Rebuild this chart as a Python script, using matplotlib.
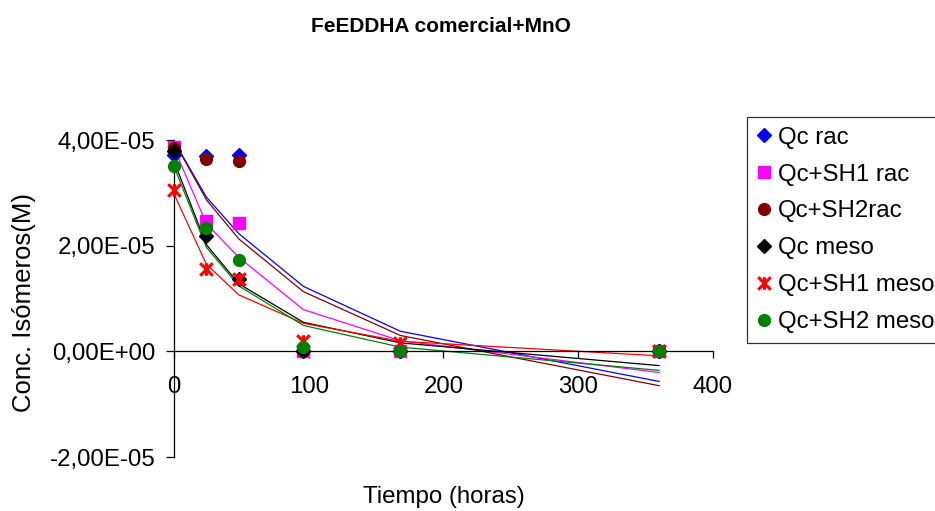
import numpy as np
import matplotlib.pyplot as plt
from matplotlib.path import Path

plt.rcParams['font.family'] = ['Liberation Sans', 'DejaVu Sans']

# time (hours)
tiempo = [0, 24, 48, 96, 168, 360]

# measured concentrations (x 1E-05 M)
labels = ['Qc rac', 'Qc+SH1 rac', 'Qc+SH2rac', 'Qc meso', 'Qc+SH1 meso', 'Qc+SH2 meso']
qc_rac = [3.72, 3.69, 3.72, 0.0, 0.0, 0.0]
sh1_rac = [3.86, 2.46, 2.42, 0.0, 0.0, 0.0]
sh2_rac = [3.85, 3.64, 3.61, 0.0, 0.0, 0.0]
qc_meso = [3.80, 2.18, 1.37, 0.0, 0.0, 0.0]
sh1_meso = [3.06, 1.55, 1.37, 0.19, 0.16, 0.0]
sh2_meso = [3.50, 2.33, 1.72, 0.09, 0.0, 0.0]

# model curves (x 1E-05 M)
fit_qc_rac = [3.98, 2.92, 2.23, 1.23, 0.38, -0.57]
fit_sh1_rac = [3.85, 2.42, 1.78, 0.79, 0.20, -0.40]
fit_sh2_rac = [3.98, 2.87, 2.13, 1.13, 0.30, -0.65]
fit_qc_meso = [3.60, 2.02, 1.28, 0.55, 0.16, -0.27]
fit_sh1_meso = [2.98, 1.65, 1.07, 0.53, 0.19, -0.085]
fit_sh2_meso = [3.50, 1.97, 1.24, 0.49, 0.08, -0.36]

yticks = [-2e-5, 0, 2e-5, 4e-5]
ytick_labels = ['-2,00E-05', '0,00E+00', '2,00E-05', '4,00E-05']
xticks = [0, 100, 200, 300, 400]

measured = [qc_rac, sh1_rac, sh2_rac, qc_meso, sh1_meso, sh2_meso]
fits = [fit_qc_rac, fit_sh1_rac, fit_sh2_rac, fit_qc_meso, fit_sh1_meso, fit_sh2_meso]
colors = ['#0000FF', '#FF00FF', '#800000', '#000000', '#FF0000', '#008000']

asterisk = Path([(-1, -1), (1, 1), (-1, 1), (1, -1), (0, -1), (0, 1)],
                [Path.MOVETO, Path.LINETO, Path.MOVETO, Path.LINETO, Path.MOVETO, Path.LINETO])
markers = [dict(marker='D', ms=7), dict(marker='s', ms=8.5), dict(marker='o', ms=8.5),
           dict(marker='D', ms=7), dict(marker=asterisk, ms=9, mew=2.2), dict(marker='o', ms=8.5)]

fs = 17.3

fig = plt.figure(figsize=(9.35, 5.11), dpi=100)
ax = fig.add_axes([174 / 935, 1 - 457 / 511, (713 - 174) / 935, (457 - 140) / 511])

t = np.array(tiempo)
for f, c in zip(fits, colors):
    ax.plot(t, np.array(f) * 1e-5, color=c, lw=0.9, clip_on=False)

for m, c, lab, mk in zip(measured, colors, labels, markers):
    ax.plot(t, np.array(m) * 1e-5, ls='none', color=c, mec=c, label=lab,
            clip_on=False, zorder=3, **mk)

ax.set_xlim(0, 400)
ax.set_ylim(-2e-5, 4e-5)
ax.set_xticks(xticks)
ax.set_yticks(yticks)
ax.set_yticklabels(ytick_labels)

ax.spines['top'].set_visible(False)
ax.spines['right'].set_visible(False)
ax.spines['bottom'].set_position(('data', 0))
for s in ['left', 'bottom']:
    ax.spines[s].set_linewidth(0.9)
ax.tick_params(axis='y', direction='out', length=6, width=0.9, pad=7.5, labelsize=fs)
ax.tick_params(axis='x', direction='out', length=5, width=0.9, pad=13, labelsize=fs)

fig.text(441 / 935, 1 - 26 / 511, 'FeEDDHA comercial+MnO', ha='center', va='center',
         fontsize=15, fontweight='bold')
fig.text(444 / 935, 1 - 497 / 511, 'Tiempo (horas)', ha='center', va='center', fontsize=fs)
fig.text(24 / 935, 1 - 302 / 511, 'Conc. Isómeros(M)', ha='center', va='center',
         rotation=90, fontsize=18.5)

leg = fig.legend(loc='upper left', bbox_to_anchor=(747 / 935, 1 - 117 / 511),
                 fontsize=fs, frameon=True, fancybox=False, edgecolor='black',
                 handlelength=0.6, handletextpad=0.3, labelspacing=0.62,
                 borderpad=0.4, borderaxespad=0)
leg.get_frame().set_linewidth(0.9)

fig.savefig('out.png', dpi=100)
